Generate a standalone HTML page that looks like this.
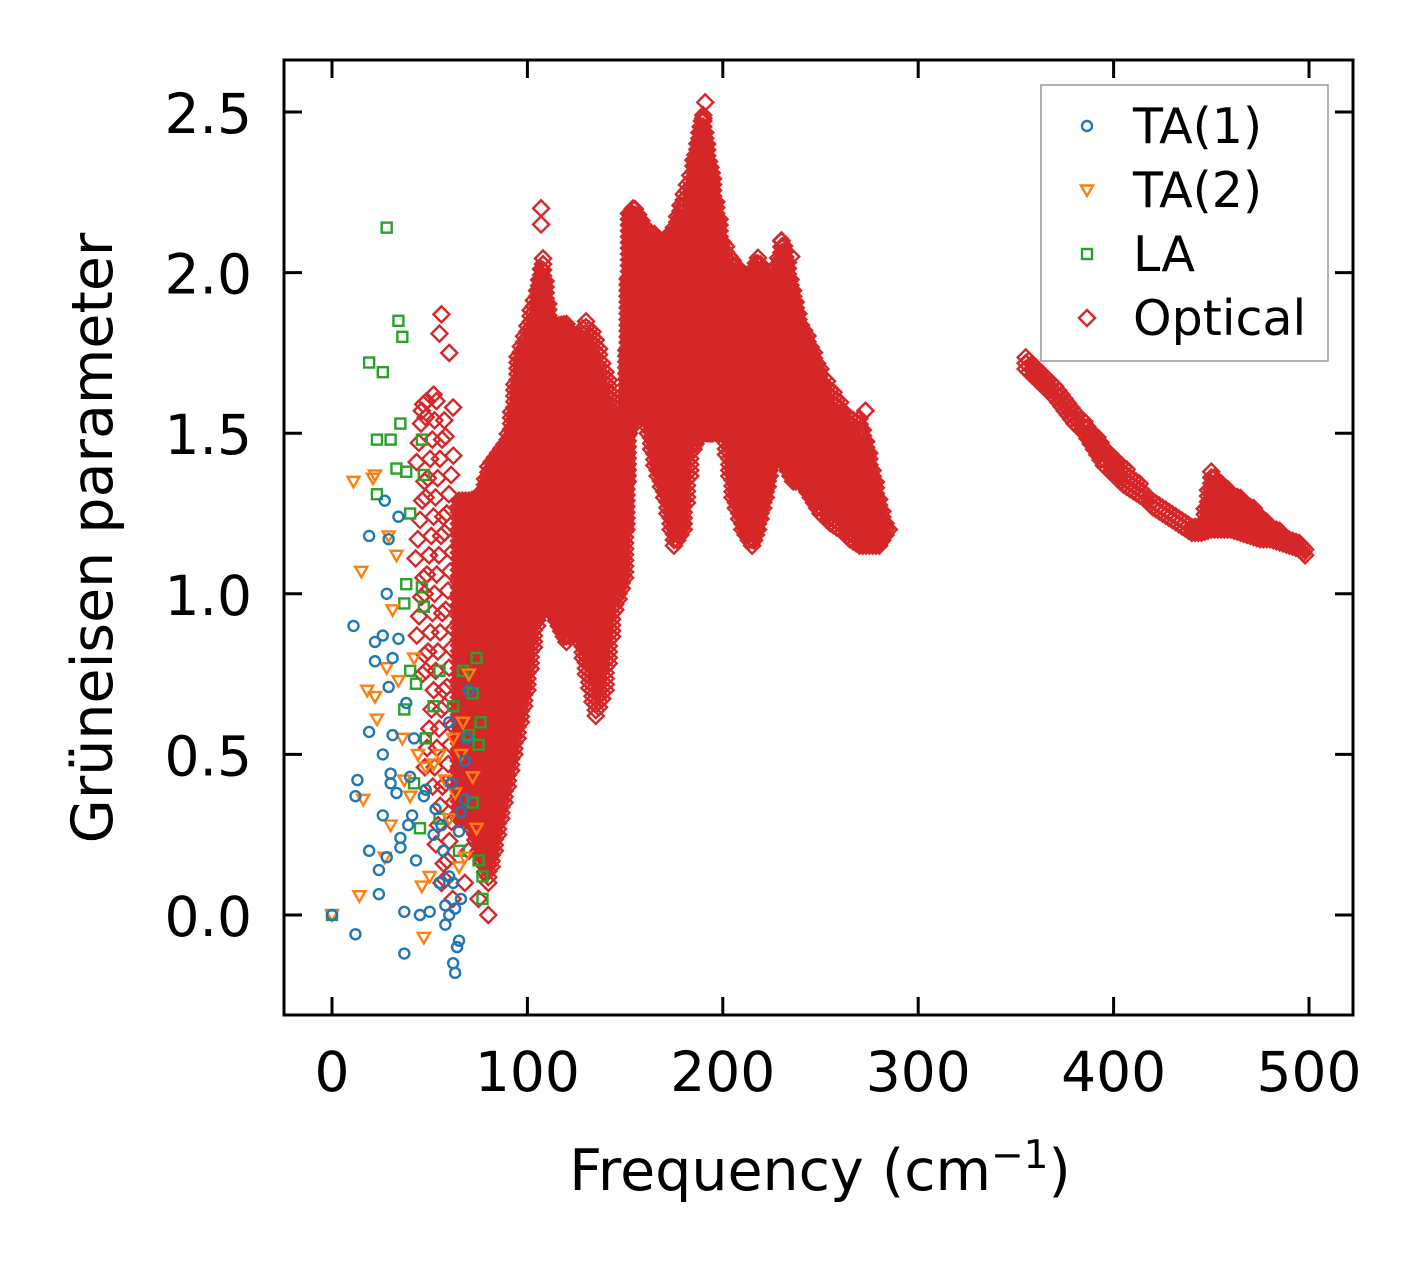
<!DOCTYPE html>
<html><head><meta charset="utf-8"><style>
html,body{margin:0;padding:0;background:#fff;}
svg{display:block;font-family:"DejaVu Sans","Liberation Sans",sans-serif;}
</style></head><body>
<svg id="chart" width="1426" height="1264" viewBox="0 0 1426 1264">
<g id="marks"></g>
<g id="axes"></g>
</svg>
<script>
const xTicks=[0,100,200,300,400,500];
const yTicks=[0.0,0.5,1.0,1.5,2.0,2.5];
const yTickLabels=["0.0","0.5","1.0","1.5","2.0","2.5"];
const ta1F=[0,11,12,13,12,19,19,19,22,22,24,24,26,26,26,27,28,28,29,29,30,30,31,31,33,34,34,35,35,37,37,38,39,40,41,42,43,45,47,48,50,52,53,55,56,57,58,58,60,60,61,62,63,64,63,65,65,66,68,68,69,70,60,62,66];
const ta1G=[0,0.9,-0.06,0.42,0.37,1.18,0.57,0.2,0.85,0.79,0.14,0.065,0.87,0.5,0.31,1.29,0.18,1.0,1.17,0.71,0.41,0.44,0.8,0.56,0.38,0.86,1.24,0.21,0.24,-0.12,0.01,0.66,0.28,0.43,0.31,0.55,0.17,0.0,0.37,0.39,0.01,0.25,0.33,0.1,0.28,0.2,0.03,-0.03,0.12,0.6,0.41,-0.15,-0.18,-0.1,0.02,-0.08,0.26,0.05,0.48,0.36,0.55,0.7,0.0,0.1,0.32];
const ta2F=[0,11,15,14,16,18,21,22,22,23,27,28,29,30,31,33,34,36,37,40,42,44,46,47,48,50,52,55,58,60,62,65,66,68,70,72,74,67,63];
const ta2G=[0,1.35,1.07,0.06,0.36,0.7,1.36,1.37,0.68,0.61,0.18,0.77,1.18,0.28,0.95,1.12,0.73,0.55,0.42,0.37,0.8,0.5,0.09,-0.07,0.46,0.12,0.47,0.5,0.42,0.3,0.55,0.15,0.5,0.18,0.75,0.43,0.27,0.6,0.38];
const laF=[0,28,34,36,19,26,35,23,30,33,23,38,40,46,47,38,37,46,47,37,43,52,55,62,67,74,72,76,75,70,48,42,55,65,72,75,77,77,45,40];
const laG=[0,2.14,1.85,1.8,1.72,1.69,1.53,1.48,1.48,1.39,1.31,1.38,1.25,1.48,1.37,1.03,0.97,1.02,0.96,0.64,0.72,0.65,0.76,0.65,0.76,0.8,0.69,0.6,0.53,0.56,0.55,0.41,0.3,0.2,0.35,0.17,0.12,0.05,0.27,0.76];
// optical bands: frequency, lower & upper Grüneisen value of the dense cloud
const optF=[45,50,55,60,65,70,75,80,85,90,95,100,105,108,112,116,120,125,130,135,140,145,150,152,155,160,165,170,175,180,185,188,190,193,195,200,205,210,215,218,222,225,230,232,236,240,245,250,255,260,265,270,275,280,285,
355,360,365,370,375,380,385,390,395,400,405,410,415,420,425,430,435,440,445,450,455,460,465,470,475,480,485,490,495,498];
const optLo=[0.75,0.4,0.1,0.05,0.3,0.3,0.2,0.1,0.25,0.4,0.55,0.7,0.9,1.0,0.95,0.9,0.85,0.9,0.75,0.62,0.7,0.95,1.05,1.5,1.55,1.55,1.4,1.3,1.15,1.2,1.45,1.5,1.5,1.5,1.5,1.5,1.3,1.2,1.15,1.2,1.3,1.4,1.45,1.4,1.35,1.35,1.3,1.25,1.22,1.2,1.17,1.15,1.15,1.15,1.2,
1.7,1.67,1.64,1.61,1.57,1.53,1.5,1.45,1.4,1.37,1.34,1.32,1.3,1.27,1.25,1.23,1.21,1.19,1.19,1.2,1.2,1.2,1.19,1.18,1.17,1.17,1.16,1.15,1.14,1.12];
const optHi=[1.6,1.62,1.6,1.5,1.3,1.3,1.3,1.4,1.45,1.5,1.75,1.85,1.95,2.05,1.85,1.85,1.85,1.8,1.85,1.8,1.7,1.6,1.55,2.2,2.2,2.15,2.12,2.1,2.15,2.25,2.35,2.45,2.5,2.35,2.3,2.1,2.05,2.0,2.0,2.05,2.0,1.98,2.1,2.08,1.95,1.85,1.78,1.7,1.65,1.6,1.55,1.55,1.45,1.3,1.2,
1.75,1.72,1.68,1.65,1.62,1.58,1.55,1.5,1.47,1.44,1.4,1.37,1.33,1.3,1.28,1.26,1.24,1.22,1.22,1.38,1.35,1.32,1.3,1.28,1.25,1.22,1.2,1.17,1.16,1.14];
const optOutF=[56,55,60,107,107,191,190,121,120,230,235,273,46,48,52,62,70,75,80,68];
const optOutG=[1.87,1.81,1.75,2.2,2.15,2.53,2.48,1.0,0.95,2.1,2.05,1.57,1.57,1.55,1.62,1.58,0.2,0.05,0.0,0.1];

const X0=284,X1=1353,Y0=60,Y1=1015;
function sx(f){return 332+f*(1309-332)/500;}
function sy(g){return 915-g*(915-112)/2.5;}
const NS='http://www.w3.org/2000/svg';
const marks=document.getElementById('marks');
const axes=document.getElementById('axes');
function mk(tag,attrs,parent){const e=document.createElementNS(NS,tag);for(const k in attrs)e.setAttribute(k,attrs[k]);parent.appendChild(e);return e;}
function circle(f,g,c){const e=mk('circle',{cx:sx(f),cy:sy(g),r:5,fill:'none',stroke:c,'stroke-width':2.4},marks);

}
function tri(f,g,c,p){const x=sx(f),y=sy(g);const e=mk('polygon',{points:`${x-6},${y-4.5} ${x+6},${y-4.5} ${x},${y+6}`,fill:'none',stroke:c,'stroke-width':2.4},p||marks);

}
function sq(f,g,c,p){const x=sx(f),y=sy(g);const e=mk('rect',{x:x-5,y:y-5,width:10,height:10,fill:'none',stroke:c,'stroke-width':2.4},p||marks);

}
function dia(x,y,c,p){const e=mk('polygon',{points:`${x},${y-8} ${x+8},${y} ${x},${y+8} ${x-8},${y}`,fill:'none',stroke:c,'stroke-width':2.4},p||marks);

}
const RED='#d62728',BLUE='#1f77b4',ORANGE='#ff7f0e',GREEN='#2ca02c';
// optical
for(let i=0;i<optF.length;i++){
  const sub=(i+1<optF.length&&optF[i+1]-optF[i]<=6)?3:1;
  for(let s=0;s<sub;s++){
    const t=s/sub;
    const f=sub>1?optF[i]+t*(optF[i+1]-optF[i]):optF[i];
    const lo=sub>1?optLo[i]+t*(optLo[i+1]-optLo[i]):optLo[i];
    const hi=sub>1?optHi[i]+t*(optHi[i+1]-optHi[i]):optHi[i];
    const sparse=optF[i]<65;
    const step=sparse?0.06:0.018;
    if(sparse&&s>0)continue;
    for(let g=lo;g<=hi+1e-9;g+=step){dia(sx(f)+(sparse?((g*37)%1-0.5)*10:0),sy(g),RED);}
  }
}
for(let i=0;i<optOutF.length;i++)dia(sx(optOutF[i]),sy(optOutG[i]),RED);
for(let i=0;i<laF.length;i++)sq(laF[i],laG[i],GREEN);
for(let i=0;i<ta2F.length;i++)tri(ta2F[i],ta2G[i],ORANGE);
for(let i=0;i<ta1F.length;i++)circle(ta1F[i],ta1G[i],BLUE);

// frame
const fr=mk('rect',{x:X0,y:Y0,width:X1-X0,height:Y1-Y0,fill:'none',stroke:'#000','stroke-width':3},axes);


xTicks.forEach(v=>{const x=sx(v);
  mk('line',{x1:x,y1:Y1,x2:x,y2:Y1-18,stroke:'#000','stroke-width':3},axes);
  mk('line',{x1:x,y1:Y0,x2:x,y2:Y0+18,stroke:'#000','stroke-width':3},axes);
  const t=mk('text',{x:x,y:1091,'font-size':55,'text-anchor':'middle',fill:'#000'},axes);t.textContent=String(v);
  
  });
yTicks.forEach((v,i)=>{const y=sy(v);
  mk('line',{x1:X0,y1:y,x2:X0+18,y2:y,stroke:'#000','stroke-width':3},axes);
  mk('line',{x1:X1,y1:y,x2:X1-18,y2:y,stroke:'#000','stroke-width':3},axes);
  const t=mk('text',{x:252,y:y+21,'font-size':55,'text-anchor':'end',fill:'#000'},axes);t.textContent=yTickLabels[i];
  
  });
const xl=mk('text',{x:820,y:1190,'font-size':57,'text-anchor':'middle',fill:'#000'},axes);
xl.innerHTML='Frequency (cm<tspan dy="-22" font-size="39">−1</tspan><tspan dy="22">)</tspan>';


const yl=mk('text',{x:0,y:0,'font-size':57,'text-anchor':'middle',fill:'#000',transform:'translate(112,538) rotate(-90)'},axes);
yl.textContent='Grüneisen parameter';


// legend
const lg=mk('g',{},axes);


mk('rect',{x:1041,y:85,width:287,height:276,fill:'#fff',stroke:'#999','stroke-width':1.5},lg);
const names=['TA(1)','TA(2)','LA','Optical'];
names.forEach((n,i)=>{const y=126+i*64;const lx=1087;
  if(i===0){mk('circle',{cx:lx,cy:y,r:5,fill:'none',stroke:BLUE,'stroke-width':2.4},lg);}
  if(i===1){tri(((lx-332)*500/977),(915-y)*2.5/803,ORANGE,lg);}
  if(i===2){sq(((lx-332)*500/977),(915-y)*2.5/803,GREEN,lg);}
  if(i===3){dia(lx,y,RED,lg);}
  const t=mk('text',{x:1133,y:y+17,'font-size':49,fill:'#000'},lg);t.textContent=n;
  
  });
</script>
</body></html>
